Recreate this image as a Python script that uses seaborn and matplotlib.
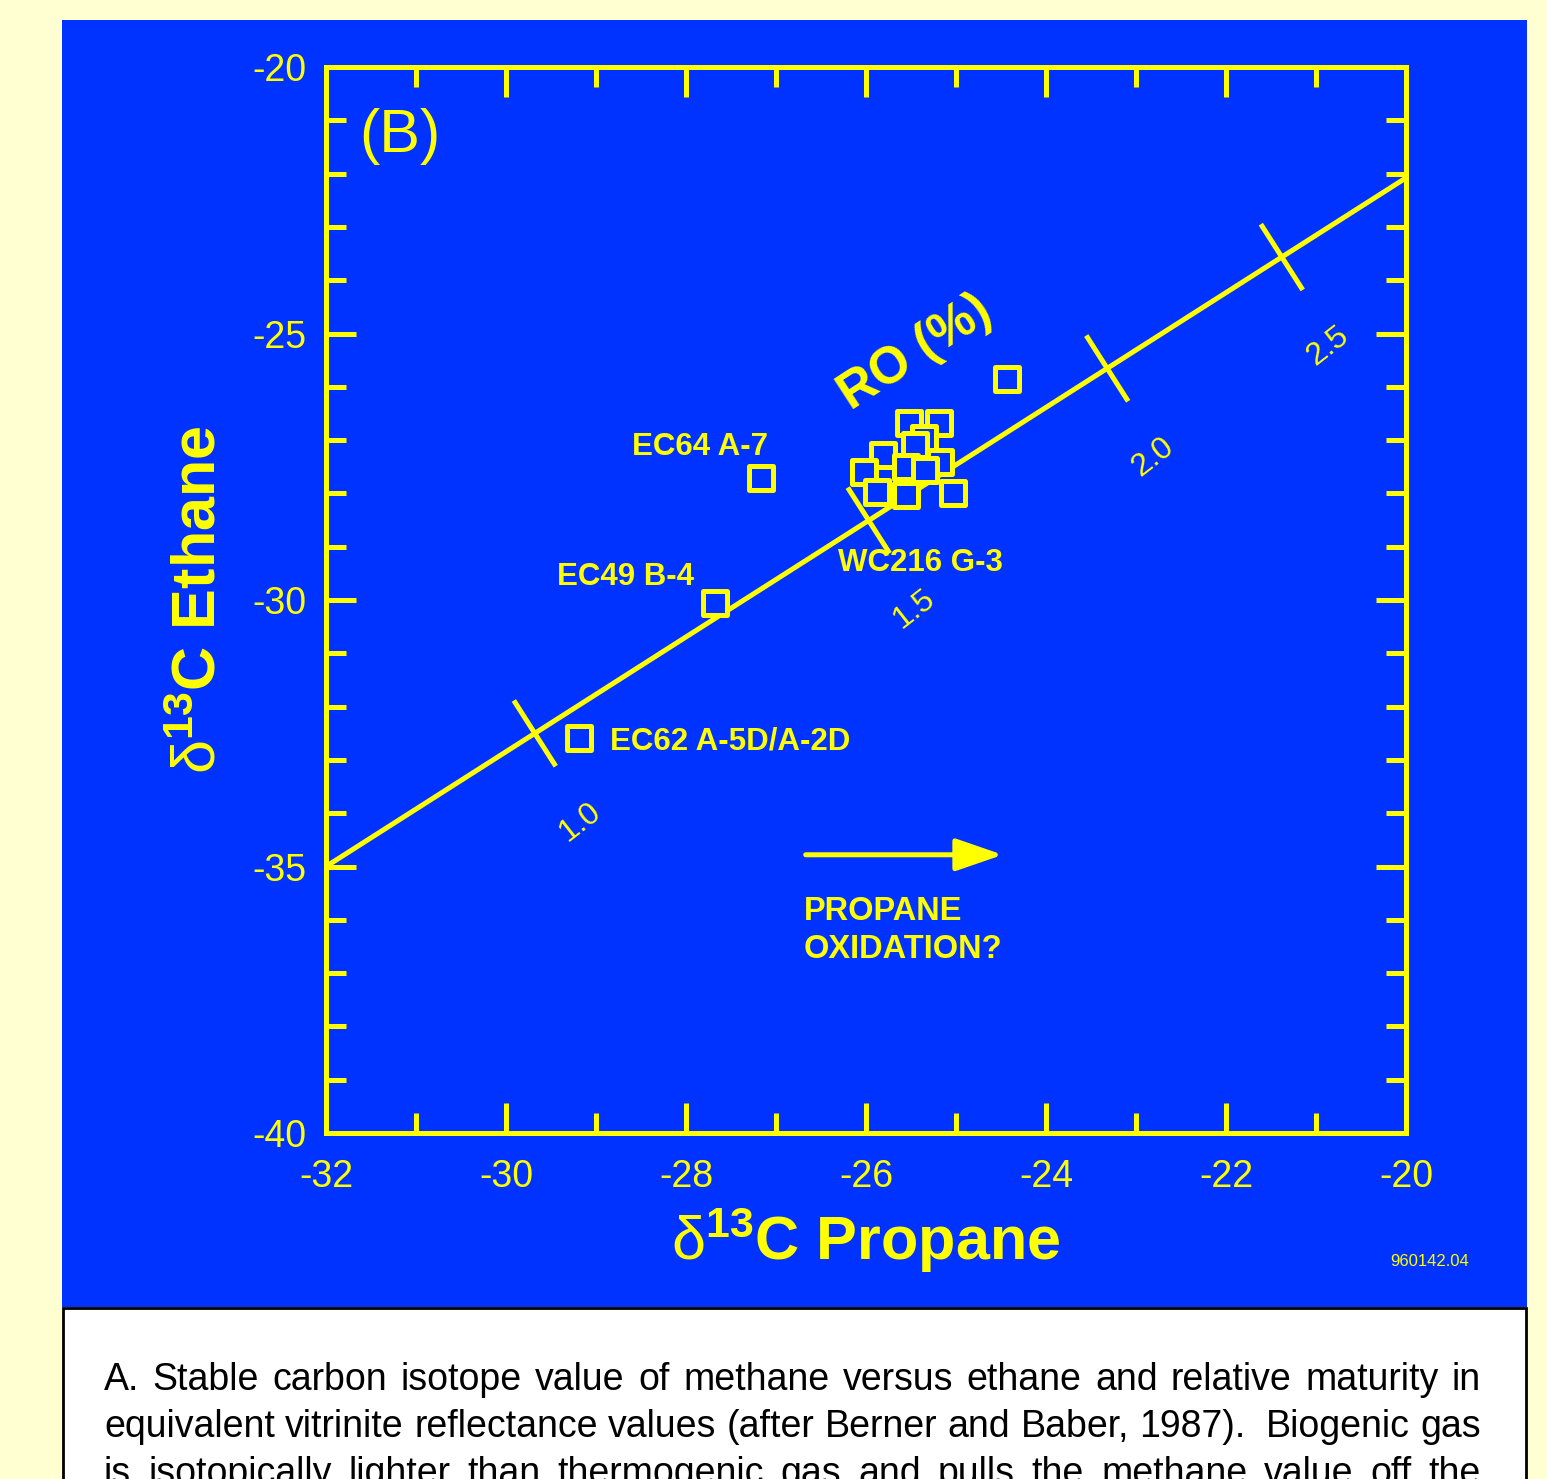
import numpy as np
import pandas as pd
import matplotlib
matplotlib.use("Agg")
import matplotlib.pyplot as plt
import seaborn as sns
from matplotlib.patches import Rectangle

# delta 13C of propane and ethane (per mil PDB) for each gas sample
propane = [-29.19, -27.68, -27.17, -24.43,
           -25.52, -25.19, -25.36, -25.46, -25.81, -25.18,
           -26.02, -25.56, -25.34, -25.88, -25.03, -25.56]
ethane = [-32.59, -30.06, -27.71, -25.85,
          -26.68, -26.68, -26.96, -27.09, -27.28, -27.41,
          -27.60, -27.50, -27.56, -27.97, -27.99, -28.03]

# maturity trend (vitrinite reflectance Ro) and its calibration marks
trend_propane = [-32.0, -20.0]
trend_ethane = [-35.0, -22.08]
ro_levels = ["1.0", "1.5", "2.0", "2.5"]
ro_propane = [-29.68, -25.97, -23.32, -21.38]

# sample annotations
sample_labels = ["EC64 A-7", "EC49 B-4", "EC62 A-5D/A-2D", "WC216 G-3"]
label_propane = [-28.60, -29.43, -28.84, -26.31]
label_ethane = [-27.13, -29.57, -32.66, -29.31]

x_ticks = [-32, -30, -28, -26, -24, -22, -20]
y_ticks = [-40, -35, -30, -25, -20]

caption_lines = [
    "A. Stable carbon isotope value of methane versus ethane and relative maturity in",
    "equivalent vitrinite reflectance values (after Berner and Baber, 1987).  Biogenic gas",
    "is isotopically lighter than thermogenic gas and pulls the methane value off the",
]

BLUE = "#0033FF"
YELLOW = "#FFFF00"
CREAM = "#FFFFD2"
LW = 3.6

sns.set_theme(style="ticks")
plt.rcParams["font.family"] = ["Liberation Sans", "DejaVu Sans"]
plt.rcParams["mathtext.fontset"] = "custom"
plt.rcParams["mathtext.rm"] = "Liberation Sans"
plt.rcParams["mathtext.bf"] = "Liberation Sans:bold"
plt.rcParams["mathtext.it"] = "Liberation Sans:italic"

W, H = 1547, 1479
fig = plt.figure(figsize=(W / 100, H / 100), dpi=100, facecolor=CREAM)

def fx(px):
    return px / W

def fy(py):
    return 1 - py / H

# blue panel and caption box (behind the axes)
fig.patches.append(Rectangle((fx(62), fy(1307)), fx(1527) - fx(62), fy(20) - fy(1307),
                             transform=fig.transFigure, facecolor=BLUE, edgecolor="none",
                             zorder=-2))
fig.patches.append(Rectangle((fx(63), -0.05), fx(1526) - fx(63), fy(1308) + 0.05,
                             transform=fig.transFigure, facecolor="white", edgecolor="black",
                             linewidth=2.0, zorder=-2))

ax = fig.add_axes([fx(326), fy(1133), fx(1406) - fx(326), fy(67) - fy(1133)])
ax.set_zorder(1)
ax.set_facecolor("none")
ax.set_xlim(-32, -20)
ax.set_ylim(-40, -20)

# maturity trend line
sns.lineplot(x=trend_propane, y=trend_ethane, color=YELLOW, linewidth=LW, ax=ax, zorder=2)

# cross marks on the trend at each Ro value
fig.canvas.draw()
tr = ax.transData
p0 = tr.transform((trend_propane[0], trend_ethane[0]))
p1 = tr.transform((trend_propane[1], trend_ethane[1]))
u = (p1 - p0) / np.hypot(*(p1 - p0))
n = np.array([u[1], -u[0]])
ro_ethane = np.interp(ro_propane, trend_propane, trend_ethane)
for lab, xv, yv in zip(ro_levels, ro_propane, ro_ethane):
    c = tr.transform((xv, yv))
    ends = tr.inverted().transform(np.vstack([c - 39 * n, c + 39 * n]))
    ax.plot(ends[:, 0], ends[:, 1], color=YELLOW, lw=LW, solid_capstyle="butt", zorder=2)
    ax.annotate(lab, (xv, yv), xytext=(33, -64), textcoords="offset points",
                ha="center", va="center", rotation=38, fontsize=23, color=YELLOW)

# sample points
df = pd.DataFrame({"propane": propane, "ethane": ethane})
sns.scatterplot(data=df, x="propane", y="ethane", marker="s", s=285, color=BLUE,
                edgecolor=YELLOW, linewidth=LW, ax=ax, zorder=3, legend=False)

for lab, xv, yv in zip(sample_labels, label_propane, label_ethane):
    ax.text(xv, yv, lab, ha="left", va="center", fontsize=22.5, fontweight="bold", color=YELLOW)

ax.text(-25.45, -25.36, "RO (%)", ha="center", va="center", rotation=33, fontsize=37,
        fontweight="bold", color=YELLOW)
ax.text(-31.63, -21.3, "(B)", ha="left", va="center", fontsize=44, color=YELLOW)

# propane oxidation arrow
ax.annotate("", xy=(-24.48, -34.78), xytext=(-26.67, -34.78),
            arrowprops=dict(arrowstyle="-|>,head_length=29,head_width=10", mutation_scale=1,
                            color=YELLOW, lw=LW, shrinkA=0, shrinkB=0))
ax.text(-26.69, -35.55, "PROPANE\nOXIDATION?", ha="left", va="top", fontsize=23.5,
        fontweight="bold", color=YELLOW, linespacing=1.32)

# axes styling
for side in ["left", "right", "top", "bottom"]:
    ax.spines[side].set_visible(True)
    ax.spines[side].set_color(YELLOW)
    ax.spines[side].set_linewidth(LW)
ax.set_xticks(x_ticks)
ax.set_xticks(np.arange(-32, -19, 1), minor=True)
ax.set_yticks(y_ticks)
ax.set_yticks(np.arange(-40, -19, 1), minor=True)
ax.set_xticklabels([str(v) for v in x_ticks])
ax.set_yticklabels([str(v) for v in y_ticks])
ax.tick_params(which="both", direction="in", top=True, right=True, color=YELLOW,
               width=LW, labelcolor=YELLOW, labelsize=27)
ax.tick_params(which="major", length=21.5)
ax.tick_params(which="minor", length=14.5)
ax.tick_params(axis="x", pad=19)
ax.tick_params(axis="y", pad=14)

ax.set_xlabel(r"$\mathrm{\delta}^{\mathbf{13}}$C Propane", fontsize=44, fontweight="bold",
              color=YELLOW)
ax.set_ylabel(r"$\mathrm{\delta}^{\mathbf{13}}$C Ethane", fontsize=44, fontweight="bold",
              color=YELLOW)
ax.xaxis.set_label_coords(0.5, -0.068)
ax.yaxis.set_label_coords(-0.09, 0.5)

fig.text(fx(1430), fy(1261), "960142.04", ha="center", va="center", fontsize=12, color=YELLOW)

# justified caption
renderer = fig.canvas.get_renderer()
left_px, right_px = 104, 1481
for i, line in enumerate(caption_lines):
    tokens = line.split(" ")
    texts = [fig.text(0, 0, t, fontsize=27, color="black", va="baseline") for t in tokens]
    widths = [t.get_window_extent(renderer).width if t.get_text() else 0 for t in texts]
    gap = (right_px - left_px - sum(widths)) / (len(tokens) - 1)
    x = left_px
    base = 1390 + 47 * i
    for t, w in zip(texts, widths):
        t.set_position((fx(x), fy(base)))
        x += w + gap

fig.savefig("out.png", dpi=100, facecolor=CREAM)
